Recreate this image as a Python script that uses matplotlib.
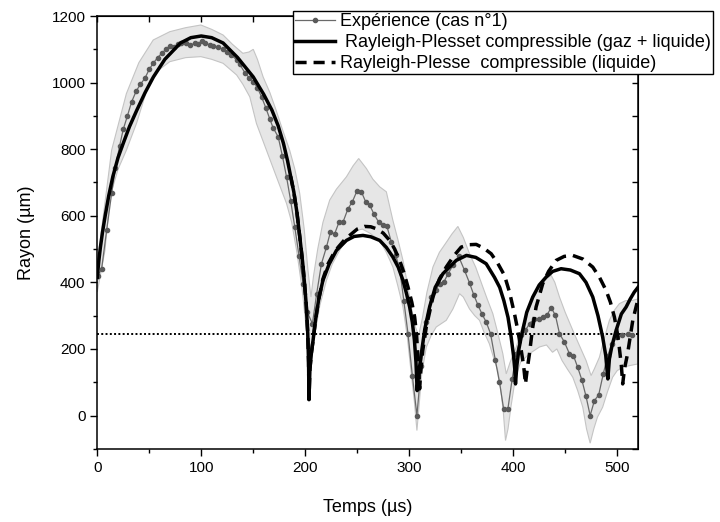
import numpy as np
import matplotlib
matplotlib.use('Agg')
import matplotlib.pyplot as plt
from matplotlib.ticker import MultipleLocator

plt.rcParams['font.family'] = ['Liberation Sans', 'DejaVu Sans']

# experiment (case 1): time in µs, radius in µm
t_exp = [0.5, 4.2, 9.0, 13.8, 17.5, 21.5, 25.0, 29.0, 33.0, 37.5, 41.5, 45.8, 50.0, 53.8,
         58.0, 62.0, 66.0, 69.8, 74.0, 78.0, 81.0, 85.0, 89.0, 93.9, 97.0, 100.3, 104.0,
         108.0, 111.4, 116.0, 121.0, 125.0, 129.0, 134.0, 137.0, 141.9, 146.0, 149.9, 154.0,
         158.0, 162.0, 166.0, 169.0, 174.0, 178.0, 182.0, 186.0, 190.0, 194.0, 198.0, 202.0,
         206.9, 211.0, 215.6, 220.4, 224.2, 228.3, 232.5, 236.3, 241.1, 245.3, 249.8, 254.0,
         258.1, 262.0, 266.1, 270.6, 274.7, 278.6, 282.8, 287.0, 290.8, 294.8, 298.8, 303.0,
         307.4, 311.6, 315.7, 321.2, 325.4, 329.2, 333.3, 337.2, 342.0, 347.5, 353.2, 358.0,
         362.0, 366.2, 370.0, 374.0, 378.2, 382.7, 386.8, 390.8, 394.9, 399.0, 403.0, 407.5,
         411.7, 415.7, 420.3, 424.8, 428.5, 432.3, 436.5, 440.6, 444.5, 449.2, 454.0, 457.9,
         462.0, 466.0, 470.0, 474.0, 478.1, 482.2, 486.6, 490.9, 495.1, 500.0, 505.0, 510.0,
         514.3]
r_exp = [420, 441, 556, 667, 745, 810, 860, 900, 942, 975, 995, 1013, 1040, 1058,
         1075, 1088, 1100, 1111, 1108, 1115, 1118, 1120, 1112, 1118, 1115, 1126, 1120,
         1113, 1110, 1106, 1100, 1093, 1083, 1068, 1055, 1030, 1015, 1003, 985,
         957, 925, 890, 865, 837, 780, 717, 645, 565, 480, 395, 310,
         276, 366, 456, 506, 551, 546, 581, 581, 621, 642, 675, 672,
         642, 632, 605, 581, 571, 568, 521, 481, 441, 345, 246, 120,
         0, 150, 280, 356, 376, 396, 401, 425, 451, 478, 436, 398,
         363, 331, 305, 281, 246, 168, 100, 20, 20, 110, 186, 241,
         256, 276, 291, 291, 296, 301, 324, 301, 246, 221, 186, 180,
         145, 107, 58, 0, 45, 62, 125, 180, 216, 236, 241, 246,
         241]

# experimental spread (upper / lower envelope)
t_up = [0, 5, 13.8, 28, 40, 53.8, 69.8, 85, 99.6, 110, 121, 130, 140, 146, 150, 154, 159.5,
        166, 172, 178, 185, 190, 194.7, 199, 202.5, 205.5, 208, 212, 217, 223.5, 230, 239.6,
        246, 251.4, 258.8, 265, 271.6, 278, 284.3, 289, 294, 298, 302, 305.5, 309, 312.5,
        317, 322.8, 329, 335.6, 341, 346.8, 352, 358, 364, 370.8, 375, 380.4, 385, 390,
        393.3, 397, 402.9, 409, 415.7, 423, 431.7, 436.5, 440, 444.5, 450, 457.3, 463,
        470.1, 474.9, 478, 482.9, 487, 492.5, 497, 502.1, 508, 514.9, 520]
r_up = [455, 580, 797, 967, 1060, 1128, 1153, 1165, 1173, 1160, 1143, 1115, 1088, 1092, 1100,
        1070, 1017, 970, 917, 860, 797, 740, 667, 560, 440, 356, 420, 500, 580, 647, 680, 717,
        750, 772, 742, 710, 687, 672, 586, 530, 466, 400, 326, 270, 240, 290,
        370, 446, 490, 520, 545, 568, 535, 486, 445, 386, 350, 306, 250, 186,
        125, 160, 205, 270, 326, 375, 411, 421, 400, 356, 310, 256, 215,
        165, 120, 140, 175, 225, 286, 315, 336, 345, 346, 350]
t_lo = [0, 7.4, 12.2, 20, 28, 38, 50.6, 60, 69.8, 85, 99.6, 110, 121, 134, 140, 146.7, 153.1,
        162.7, 172.3, 182, 187, 192, 197, 201, 203.5, 205, 206.5, 209, 214, 220.4, 226, 233,
        240, 249, 255, 262, 271.6, 278, 284.3, 289, 294, 298, 302, 305, 307.4, 309.5, 312,
        316.4, 321, 326, 335.6, 342, 348.4, 352, 358, 363, 367.6, 372, 377, 381, 385.2,
        388, 390.5, 392.6, 395, 398, 402, 407, 415.7, 425.3, 432, 437.8, 442, 447, 452,
        457.3, 462, 466.9, 470.5, 474, 477.5, 481, 486, 490.5, 495.6, 500, 505.3, 512, 520]
r_lo = [371, 496, 657, 740, 797, 880, 1008, 1040, 1063, 1075, 1078, 1070, 1058, 1023, 995, 957,
        877, 797, 717, 637, 580, 490, 380, 260, 190, 160, 180, 240, 330, 406, 455, 496,
        530, 556, 560, 548, 526, 490, 446, 390, 326, 240, 125, 40, -45, 30, 125,
        205, 240, 266, 286, 320, 366, 356, 320, 300, 286, 250, 216, 175, 135,
        80, 10, -75, -40, 30, 110, 160, 186, 206, 212, 190, 200, 165, 140,
        115, 75, 25, -40, -83, -40, -5, 25, 70, 115, 135, 145, 150, 155]

# compressible Rayleigh-Plesset, gas + liquid
t_gl = [0, 1.5, 3, 5, 7.6, 11, 15, 20, 25, 31, 38, 46, 54, 65, 80, 90, 100, 110, 121, 135,
        150, 160, 168, 174, 179, 183, 186, 189, 192, 195, 197.5, 199.5, 201, 202.4, 203.2,
        203.6, 204.5, 206, 207.5, 210, 213, 217, 223, 230, 239.6, 247, 255.5, 263, 271.6,
        278, 284.3, 289.5, 294, 297.5, 300.4, 303, 305, 306.5, 307.6, 309, 311.6, 315,
        319.6, 325, 332.4, 345.2, 355, 364, 374, 382, 387, 391, 395, 398, 400.3, 401.5,
        402.2, 403.5, 405.5, 407.7, 413, 418.8, 425, 431.7, 438, 446, 455, 463.7, 470,
        476.5, 481.5, 486, 489, 491, 492.5, 495, 499, 504, 508.6, 512.5, 516.5, 520]
r_gl = [415, 465, 505, 550, 600, 660, 718, 775, 818, 868, 917, 970, 1017, 1070, 1119, 1135,
        1140, 1135, 1119, 1075, 1017, 965, 917, 870, 818, 765, 718, 672, 610, 530, 460, 390,
        330, 247, 160, 48, 140, 190, 225, 290, 350, 406, 455, 496, 526, 538, 541, 537, 526,
        505, 476, 445, 406, 365, 326, 280, 226, 160, 75, 125, 185, 260,
        326, 385, 426, 466, 481, 475, 456, 415, 385, 345, 295, 236, 180, 140,
        95, 150, 200, 236, 310, 356, 392, 416, 433, 441, 437, 426, 400,
        356, 300, 236, 180, 110, 170, 210, 256, 305, 326, 350, 371, 385]

# compressible Rayleigh-Plesset, liquid only
t_l = [186, 189, 192, 195, 197.5, 199.5, 201, 202.4, 203.2, 203.6, 204.5, 206, 207.5, 210,
       213, 217, 222, 226.5, 231.5, 237, 242.7, 250, 257, 263, 268.4, 275, 281.2, 286,
       290.8, 295, 298.8, 302.5, 305.2, 307, 308.4, 309.3, 310, 311, 313, 316.4, 322.8,
       329, 335.6, 343, 350, 357, 364.4, 371.5, 378.8, 385, 391.6, 396.5, 401.2, 404.5,
       407.7, 410, 411.8, 413.5, 415.6, 418.5, 422, 428.4, 434, 441.3, 449, 457.2, 467,
       476.5, 483, 489.3, 493.5, 497.3, 500, 502, 504, 505.3, 507, 510, 515, 520]
r_l = [718, 672, 610, 530, 460, 390, 330, 247, 160, 48, 140, 190, 225, 290,
       350, 410, 456, 482, 505, 525, 541, 560, 568, 567, 561, 548, 526, 500,
       466, 428, 386, 340, 296, 245, 175, 130, 80, 130, 195, 266, 356,
       410, 446, 480, 506, 513, 514, 503, 486, 458, 421, 370, 306, 255,
       196, 150, 95, 140, 185, 260, 326, 396, 433, 466, 478, 481, 470,
       446, 415, 376, 340, 296, 250, 205, 150, 95, 140, 186, 286, 350]

r_threshold = 245

fig = plt.figure(figsize=(7.2, 5.22), dpi=100)
ax = fig.add_axes([0.1351, 0.1389, 0.751, 0.8304])

band_t = np.concatenate([t_up, t_lo[::-1]])
band_r = np.concatenate([r_up, r_lo[::-1]])
ax.fill(band_t, band_r, facecolor='#e6e6e6', edgecolor='#c4c4c4', lw=0.8, zorder=1)

ax.plot(t_exp, r_exp, color='#6a6a6a', lw=0.9, marker='o', ms=3.0,
        mfc='#5a5a5a', mec='#5a5a5a', zorder=3, label='Expérience (cas n°1)')
ax.axhline(r_threshold, color='black', lw=1.4, ls=(0, (1, 1.2)), zorder=2)
ax.plot(t_l, r_l, color='black', lw=2.5, ls=(0, (3.2, 2)), zorder=4,
        label='Rayleigh-Plesse  compressible (liquide)')
ax.plot(t_gl, r_gl, color='black', lw=2.5, zorder=5,
        label=' Rayleigh-Plesset compressible (gaz + liquide)')

ax.set_xlim(0, 520)
ax.set_ylim(-102, 1200)
ax.xaxis.set_major_locator(MultipleLocator(100))
ax.xaxis.set_minor_locator(MultipleLocator(50))
ax.yaxis.set_major_locator(MultipleLocator(200))
ax.yaxis.set_minor_locator(MultipleLocator(100))
ax.tick_params(which='major', direction='out', length=5, width=1, labelsize=11)
ax.tick_params(which='minor', direction='out', length=3, width=1)
for s in ax.spines.values():
    s.set_linewidth(1.1)

top = ax.secondary_xaxis('top')
top.xaxis.set_major_locator(MultipleLocator(50))
top.tick_params(direction='in', length=4, width=1, labeltop=False)
right = ax.secondary_yaxis('right')
right.yaxis.set_major_locator(MultipleLocator(100))
right.tick_params(direction='in', length=4, width=1, labelright=False)

ax.set_xlabel('Temps (µs)', fontsize=13, labelpad=17)
ax.set_ylabel('Rayon (µm)', fontsize=13, labelpad=12)

h, l = ax.get_legend_handles_labels()
order = [0, 2, 1]
leg = ax.legend([h[i] for i in order], [l[i] for i in order], loc='upper left',
                bbox_to_anchor=(293 / 720, 1 - 11 / 522), bbox_transform=fig.transFigure,
                fontsize=13, frameon=True, fancybox=False, framealpha=1,
                edgecolor='black', borderaxespad=0, handlelength=2.2,
                handletextpad=0.3, labelspacing=0.22, borderpad=0.12)
leg.get_frame().set_linewidth(1.0)
leg.set_zorder(10)

fig.savefig('out.png', dpi=100)
